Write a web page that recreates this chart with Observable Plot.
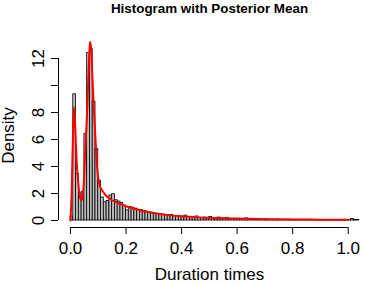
<!DOCTYPE html>
<html><head><meta charset="utf-8">
<script src="https://cdn.jsdelivr.net/npm/d3@7"></script>
<script src="https://cdn.jsdelivr.net/npm/@observablehq/plot@0.6"></script>
<style>html,body{margin:0;padding:0;background:#fff} svg{display:block}</style>
</head><body><div id="chart"></div>
<script>
// ---- data ----
const binWidth = 0.01;
const density = [
  0.3, 9.35, 3.45, 2.0, 2.1, 6.4, 12.4, 12.7, 8.8, 5.3,
  2.95, 1.7, 1.35, 1.45, 1.85, 1.95, 1.5, 1.4, 1.3, 1.1,
  0.75, 1.0, 0.95, 0.88, 0.8, 0.78, 0.72, 0.66, 0.6, 0.58,
  0.52, 0.5, 0.46, 0.44, 0.4, 0.38, 0.42, 0.33, 0.31, 0.3,
  0.27, 0.36, 0.25, 0.24, 0.22, 0.3, 0.2, 0.19, 0.22, 0.17,
  0.26, 0.15, 0.16, 0.22, 0.14, 0.13, 0.2, 0.12, 0.11, 0.12,
  0.1, 0.09, 0.1, 0.16, 0.08, 0.09, 0.07, 0.08, 0.07, 0.06,
  0.08, 0.05, 0.06, 0.05, 0.07, 0.04, 0.05, 0.04, 0.06, 0.04,
  0.03, 0.05, 0.04, 0.03, 0.04, 0.03, 0.05, 0.03, 0.02, 0.04,
  0.03, 0.02, 0.03, 0.02, 0.03, 0.02, 0.02, 0.03, 0.02, 0.03,
  0.02, 0.12, 0.05, 0.04
];
const curveX = [0, 0.004, 0.008, 0.0125, 0.017, 0.022, 0.027, 0.031, 0.036, 0.04,
  0.044, 0.048, 0.053, 0.057, 0.061, 0.065, 0.07, 0.074, 0.078, 0.083,
  0.089, 0.094, 0.1, 0.105, 0.11, 0.12, 0.13, 0.14, 0.15, 0.16,
  0.18, 0.2, 0.22, 0.25, 0.28, 0.32, 0.36, 0.4, 0.45, 0.5,
  0.55, 0.6, 0.7, 0.8, 0.9, 1.0];
const curveY = [0, 2.0, 5.5, 8.4, 7.0, 4.4, 3.0, 2.2, 1.6, 1.5,
  1.9, 2.8, 5.2, 6.8, 8.6, 11.0, 13.25, 12.8, 11.0, 8.8,
  6.4, 4.5, 3.1, 2.6, 2.35, 2.05, 1.8, 1.65, 1.5, 1.4,
  1.22, 1.06, 0.93, 0.76, 0.62, 0.48, 0.38, 0.31, 0.25, 0.2,
  0.17, 0.14, 0.1, 0.08, 0.06, 0.05];
const xTicks = [0, 0.2, 0.4, 0.6, 0.8, 1.0];
const xTickLabels = ["0.0", "0.2", "0.4", "0.6", "0.8", "1.0"];
const yTicks = [0, 2, 4, 6, 8, 10, 12];
const yTickLabels = ["0", "2", "4", "6", "8", "", "12"];
const title = "Histogram with Posterior Mean";
const xLabel = "Duration times";
const yLabel = "Density";

// ---- build ----
const bins = density.map((d, i) => ({x1: i * binWidth, x2: (i + 1) * binWidth, y: d}));
const curve = curveX.map((x, i) => ({x, y: curveY[i]}));
const font = "'Liberation Sans', Arial, Helvetica, sans-serif";

const chart = Plot.plot({
  width: 365, height: 284,
  marginLeft: 58, marginRight: 5, marginTop: 43, marginBottom: 57,
  style: {fontFamily: font, fontSize: "17px", background: "#fff", color: "#000"},
  x: {domain: [0, 1], range: [70, 347.7], axis: null},
  y: {domain: [0, 12], range: [220, 58], axis: null},
  marks: [
    Plot.rectY(bins, {x1: "x1", x2: "x2", y: "y", fill: "#bebebe", stroke: "#000", strokeWidth: 0.8}),
    Plot.line(curve, {x: "x", y: "y", stroke: "#ff0000", strokeWidth: 2, curve: "monotone-x"}),
    Plot.ruleY([0], {x1: () => xTicks[0], x2: () => xTicks[xTicks.length - 1], dy: 7, stroke: "#000"}),
    Plot.ruleX([0], {y1: () => yTicks[0], y2: () => yTicks[yTicks.length - 1], dx: -12, stroke: "#000"}),
    Plot.axisX({anchor: "bottom", ticks: xTicks, tickSize: 7, tickPadding: 7, fontSize: 17,
      tickFormat: d => xTickLabels[xTicks.indexOf(d)], label: null}),
    Plot.axisY({anchor: "left", ticks: yTicks, tickSize: 7, tickPadding: 8, tickRotate: -90, fontSize: 17,
      tickFormat: d => yTickLabels[yTicks.indexOf(d)], label: null}),
    Plot.text([title], {text: d => d, frameAnchor: "top", lineAnchor: "bottom", dy: -31,
      fontWeight: "bold", fontSize: 13.4}),
    Plot.text([xLabel], {text: d => d, frameAnchor: "bottom", lineAnchor: "bottom", dy: 52, fontSize: 17}),
    Plot.text([yLabel], {text: d => d, frameAnchor: "left", textAnchor: "middle", lineAnchor: "bottom",
      rotate: -90, dx: -44.8, fontSize: 17})
  ]
});
document.getElementById("chart").append(chart);
</script>
</body></html>
